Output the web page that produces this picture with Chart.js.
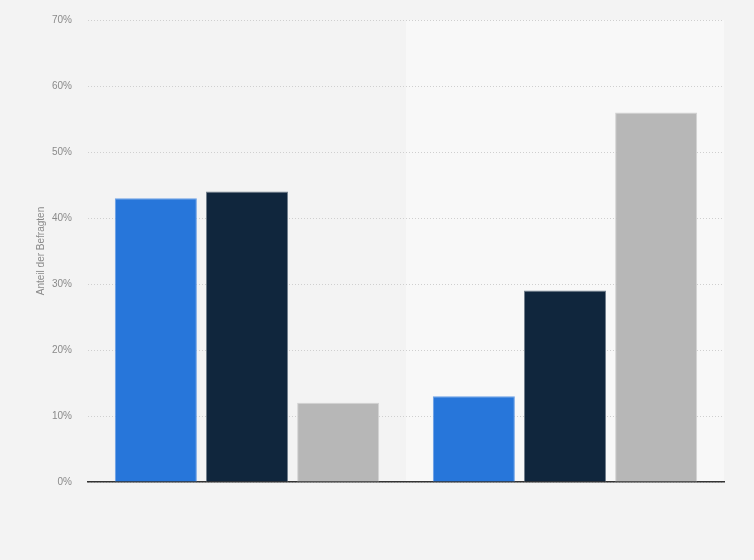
<!DOCTYPE html>
<html>
<head>
<meta charset="utf-8">
<script src="https://cdn.jsdelivr.net/npm/chart.js@4"></script>
<style>
  html,body{margin:0;padding:0;background:#f3f3f3}
  #wrap{width:754px;height:560px;position:relative}
</style>
</head>
<body>
<div id="wrap"><canvas id="c"></canvas></div>
<script>
// two answer groups, three series (labels not shown in the picture)
const categories = ['Gruppe 1', 'Gruppe 2'];
const seriesA = [43, 13];
const seriesB = [44, 29];
const seriesC = [12, 56];
const yTicks = [0, 10, 20, 30, 40, 50, 60, 70];

// light band behind the second category
const bandPlugin = {
  id: 'band',
  beforeDraw(chart){
    const {ctx, chartArea:a, scales:{x}} = chart;
    const mid = (x.getPixelForTick(0) + x.getPixelForTick(1)) / 2;
    ctx.save();
    ctx.fillStyle = '#f8f8f8';
    ctx.fillRect(mid, a.top, a.right - mid, a.bottom - a.top);
    ctx.restore();
  }
};

const font = {family: '"Liberation Sans", Arial, sans-serif', size: 10};

new Chart(document.getElementById('c'), {
  type: 'bar',
  data: {
    labels: categories,
    datasets: [
      {data: seriesA, backgroundColor: '#2776da', borderColor: '#6a9fe6', borderWidth: 1},
      {data: seriesB, backgroundColor: '#10263d', borderColor: '#75828f', borderWidth: 1},
      {data: seriesC, backgroundColor: '#b7b7b7', borderColor: '#d2d2d2', borderWidth: 1}
    ]
  },
  options: {
    responsive: true,
    maintainAspectRatio: false,
    animation: false,
    layout: {padding: {top: 20, right: 30, bottom: 70, left: 0}},
    datasets: {bar: {categoryPercentage: 0.86, barPercentage: 0.9}},
    plugins: {legend: {display: false}, tooltip: {enabled: false}},
    scales: {
      x: {
        ticks: {display: false},
        grid: {display: false},
        border: {display: true, color: '#333333', width: 1.5}
      },
      y: {
        min: 0, max: 70,
        afterBuildTicks: s => { s.ticks = yTicks.map(v => ({value: v})); },
        afterFit: s => { s.width = 88; s.paddingTop = 0; s.paddingBottom = 0; },
        ticks: {
          padding: 16, color: '#8a8a8a', font,
          callback: v => v + '%'
        },
        grid: {color: '#cfcfcf', lineWidth: 1, drawTicks: false},
        border: {display: false, dash: [1, 2]},
        title: {
          display: true, text: 'Anteil der Befragten',
          color: '#8a8a8a', font, padding: {top: 35, bottom: 0}
        }
      }
    }
  },
  plugins: [bandPlugin]
});
</script>
</body>
</html>
